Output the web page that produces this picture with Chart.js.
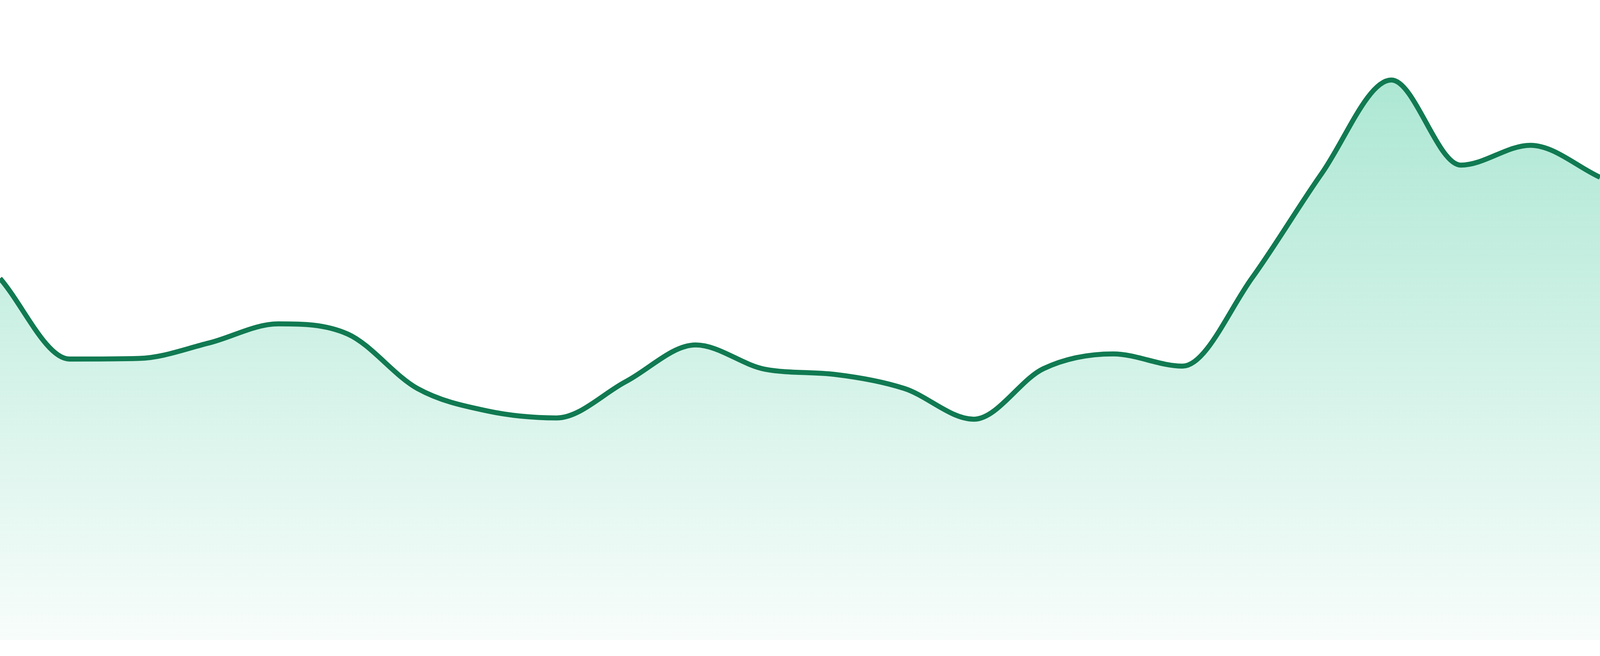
<!DOCTYPE html>
<html>
<head>
<meta charset="utf-8">
<script src="https://cdn.jsdelivr.net/npm/chart.js@4"></script>
<style>
  html, body { margin: 0; padding: 0; background: #ffffff; overflow: hidden; }
  #wrap { position: fixed; left: 0; top: 0; width: 100vw; height: 100vh; }
  canvas { display: block; }
</style>
</head>
<body>
<div id="wrap"><canvas id="c"></canvas></div>
<script>
const labels = ["1","2","3","4","5","6","7","8","9","10","11","12","13","14","15","16","17","18","19","20","21","22","23","24"];
const values = [56.5, 43.9, 44.0, 46.4, 49.4, 47.8, 39.3, 35.8, 34.7, 40.4, 46.1, 42.3, 41.5, 39.3, 34.5, 42.4, 44.7, 42.8, 56.6, 72.9, 87.5, 74.2, 77.3, 72.3];
const yMin = 0;
const yMax = 100;
const lineColor = "#117a52";

// reference is 4800 px wide; scale style sizes to the actual CSS viewport
const k = window.innerWidth / 4800;

function fillGradient(context) {
  const chart = context.chart;
  const area = chart.chartArea;
  if (!area) return "rgba(16,185,129,0.2)";
  const g = chart.ctx.createLinearGradient(0, area.top, 0, area.bottom);
  g.addColorStop(0, "rgba(16,185,129,0.39)");
  g.addColorStop(1, "rgba(16,185,129,0.03)");
  return g;
}

new Chart(document.getElementById("c"), {
  type: "line",
  data: {
    labels: labels,
    datasets: [{
      data: values,
      borderColor: lineColor,
      borderWidth: 15 * k,
      backgroundColor: fillGradient,
      fill: "start",
      pointRadius: 0,
      pointHoverRadius: 0,
      cubicInterpolationMode: "monotone"
    }]
  },
  options: {
    responsive: true,
    maintainAspectRatio: false,
    animation: false,
    layout: { padding: { left: 0, right: 0, top: 0, bottom: 48 * k } },
    plugins: { legend: { display: false }, tooltip: { enabled: false } },
    scales: {
      x: { display: false, offset: false },
      y: { display: false, min: yMin, max: yMax }
    }
  }
});
</script>
</body>
</html>
